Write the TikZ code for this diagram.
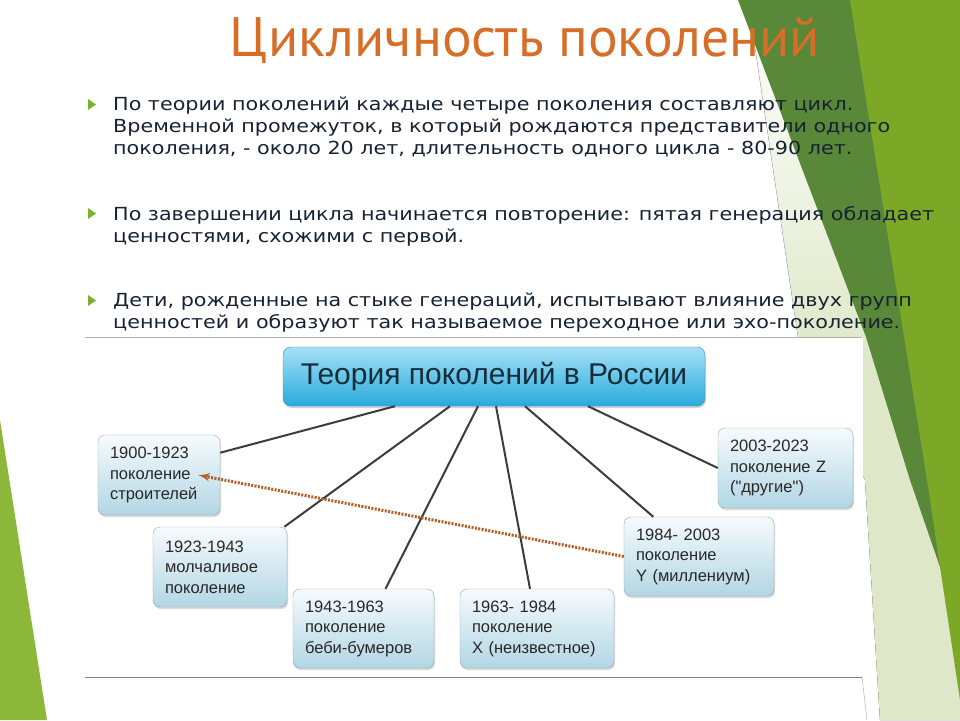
\documentclass[tikz,border=0pt]{standalone}
\usepackage{fontspec}
\setmainfont[FakeStretch=1.15]{DejaVu Sans}
\newfontfamily\titlefont{PT Sans}
\newfontfamily\boxfont{Liberation Sans}
\usepackage{tikz}
\usetikzlibrary{shapes,arrows,calc,shadows}

\definecolor{titleorange}{RGB}{214,110,40}
\definecolor{bodytext}{RGB}{22,34,50}
\definecolor{bulletgreen}{RGB}{122,178,46}
\definecolor{darkgreen}{RGB}{88,136,56}
\definecolor{lightgreen}{RGB}{124,168,40}
\definecolor{palegreen}{RGB}{222,232,200}
\definecolor{leftgreen}{RGB}{140,184,58}
\definecolor{topictop}{RGB}{165,225,246}
\definecolor{topicbottom}{RGB}{40,170,220}
\definecolor{topicedge}{RGB}{60,140,180}
\definecolor{topictext}{RGB}{20,45,60}
\definecolor{gentop}{RGB}{246,251,253}
\definecolor{genbottom}{RGB}{178,214,228}
\definecolor{genedge}{RGB}{150,165,175}
\definecolor{gentext}{RGB}{40,40,40}
\definecolor{spokegray}{RGB}{60,60,60}
\definecolor{echobrown}{RGB}{180,95,40}

\tikzstyle{spoke} = [draw, spokegray, line width=2pt]
\tikzstyle{echo} = [draw, echobrown, dash pattern=on 2pt off 1.4pt, line width=3pt, -latex']
\tikzstyle{topic} = [draw=topicedge, rectangle, rounded corners=8pt, top color=topictop, bottom color=topicbottom, minimum width=422pt, minimum height=59pt, text=topictext, font=\boxfont\fontsize{30}{34}\selectfont, drop shadow={opacity=0.35, shadow xshift=1pt, shadow yshift=-2pt}]
\tikzstyle{gen} = [draw=genedge, rectangle, rounded corners=7pt, top color=gentop, bottom color=genbottom, minimum height=80pt, inner xsep=12pt, align=left, text=gentext, font=\boxfont\fontsize{16.5}{20.5}\selectfont, drop shadow={opacity=0.3, shadow xshift=1pt, shadow yshift=-2pt}]
\tikzstyle{para} = [anchor=north west, inner sep=0pt, align=left, text=bodytext, font=\fontsize{18}{22}\selectfont]

\begin{document}
\begin{tikzpicture}[x=1pt, y=-1pt, node distance=170pt]
    \useasboundingbox (0,0) rectangle (960,720);
    % slide background
    \fill[top color=white, bottom color=palegreen, middle color=palegreen] (748,0) -- (960,0) -- (960,720) -- (880,720) -- (865,480) -- (798,337) -- cycle;
    \draw[gray!50] (748,0) -- (798,337);
    \fill[darkgreen] (738,0) -- (960,0) -- (960,625) -- (910,480) -- (866,337) -- cycle;
    \fill[lightgreen] (850,0) -- (960,0) -- (960,700) -- (927,480) -- cycle;
    \fill[leftgreen] (0,420) -- (47,720) -- (0,720) -- cycle;

    \node[anchor=base, text=titleorange, font=\titlefont\fontsize{55.5}{62}\selectfont] (title) at (525,56) {Цикличность поколений};

    \fill[bulletgreen] (88,99) -- (96,104.5) -- (88,110) -- cycle;
    \fill[bulletgreen] (88,208) -- (96,213.5) -- (88,219) -- cycle;
    \fill[bulletgreen] (88,295) -- (96,300.5) -- (88,306) -- cycle;
    \node[para] (cycle) at (113,97) {По теории поколений каждые четыре поколения составляют цикл.\\Временной промежуток, в который рождаются представители одного\\поколения, - около 20 лет, длительность одного цикла - 80-90 лет.};
    \node[para] (repeat) at (113,206) {По завершении цикла начинается повторение: пятая генерация обладает\\ценностями, схожими с первой.};
    \node[para] (echotext) at (113,293) {Дети, рожденные на стыке генераций, испытывают влияние двух групп\\ценностей и образуют так называемое переходное или эхо-поколение.};

    % diagram
    \fill[white] (85,337) rectangle (863,720);
    \draw[gray!60] (85,337) -- (862,337);
    \draw[gray] (85,677) -- (862,677);
    \draw[gray!70] (862,677) -- (867,720);

    \node[topic] (theory) at (494,376.5) {Теория поколений в России};
    \node[gen, text width=98pt] (g1900) at (159,475) {1900-1923\\поколение\\строителей};
    \node[gen, text width=110pt] (g1923) at (220,567) {1923-1943\\молчаливое\\поколение};
    \node[gen, text width=117pt, minimum height=79pt] (g1943) at (363.5,628.5) {1943-1963\\поколение\\беби-бумеров};
    \node[gen, text width=130pt, minimum height=79pt, right of=g1943, node distance=173.5pt] (g1963) {1963- 1984\\поколение\\X (неизвестное)};
    \node[gen, text width=126pt, minimum height=79pt] (g1984) at (699,556.5) {1984- 2003\\поколение\\Y (миллениум)};
    \node[gen, text width=111pt] (g2003) at (785.5,468) {2003-2023\\поколение Z\\("другие")};
    \coordinate[right of=g1900, node distance=39pt] (echoend);

    \path[spoke] ([xshift=-99pt]theory.south) -- (g1900.20);
    \path[spoke] ([xshift=-44pt]theory.south) -- (g1923.32);
    \path[spoke] ([xshift=-16pt]theory.south) -- (g1943.61);
    \path[spoke] ([xshift=2pt]theory.south) -- (g1963.100);
    \path[spoke] ([xshift=31pt]theory.south) -- (g1984.139);
    \path[spoke] ([xshift=94pt]theory.south) -- (g2003.180);
    \path[echo] (g1984.west) -- (echoend);
\end{tikzpicture}
\end{document}
